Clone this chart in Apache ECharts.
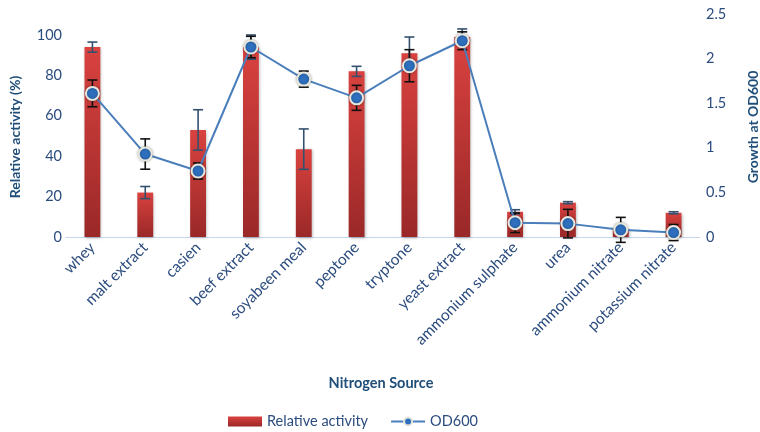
<!DOCTYPE html>
<html>
<head>
<meta charset="utf-8">
<script src="https://cdn.jsdelivr.net/npm/echarts@6/dist/echarts.min.js"></script>
<style>
  html, body { margin: 0; padding: 0; background: #ffffff; }
  #chart { width: 760px; height: 432px; }
</style>
</head>
<body>
<div id="chart"></div>
<script>
// Nitrogen sources tested
const categories = ['whey', 'malt extract', 'casien', 'beef extract', 'soyabeen meal', 'peptone',
  'tryptone', 'yeast extract', 'ammonium sulphate', 'urea', 'ammonium nitrate', 'potassium nitrate'];

// Relative activity (%) and its standard deviation
const activity    = [94, 22, 53, 94, 43.5, 82, 91, 99, 12.5, 17, 4, 12];
const activityErr = [2.5, 3, 10, 6, 10, 2.5, 8, 4, 1, 0.5, 0.5, 0.5];

// Growth at OD600 and its standard deviation
const od600    = [1.61, 0.93, 0.74, 2.13, 1.77, 1.56, 1.92, 2.20, 0.16, 0.15, 0.08, 0.05];
const od600Err = [0.15, 0.17, 0.09, 0.12, 0.09, 0.14, 0.18, 0.10, 0.11, 0.16, 0.14, 0.09];

// Axis tick settings
const leftTicks  = { min: 0, interval: 20, shownMax: 100 };
const rightTicks = { min: 0, max: 2.5, interval: 0.5 };

const FONT = 'Lato, "Open Sans", sans-serif';
const LABEL_COLOR = '#2b4c7e';
const TITLE_COLOR = '#1f4e79';

const chart = echarts.init(document.getElementById('chart'), null, { renderer: 'canvas' });

// Grid spans 14..237 px vertically; left axis 100 sits at y=35, so its max extends past 100
const gridTop = 14, gridBottomY = 237, leftTopY = 35;
const leftMax = leftTicks.shownMax * (gridBottomY - gridTop) / (gridBottomY - leftTopY);

function errorBars(values, errs) {
  return values.map((v, i) => [i, v - errs[i], v + errs[i]]);
}

function makeErrorRenderer(color, capHalf) {
  return function (params, api) {
    const x = api.value(0);
    const lo = api.coord([x, api.value(1)]);
    const hi = api.coord([x, api.value(2)]);
    const style = { stroke: color, lineWidth: 1.6 };
    return {
      type: 'group',
      children: [
        { type: 'line', shape: { x1: hi[0], y1: hi[1], x2: lo[0], y2: lo[1] }, style },
        { type: 'line', shape: { x1: hi[0] - capHalf, y1: hi[1], x2: hi[0] + capHalf, y2: hi[1] }, style },
        { type: 'line', shape: { x1: lo[0] - capHalf, y1: lo[1], x2: lo[0] + capHalf, y2: lo[1] }, style }
      ]
    };
  };
}

const barGradient = new echarts.graphic.LinearGradient(0, 0, 0, 1, [
  { offset: 0, color: '#d9423f' },
  { offset: 1, color: '#9a2828' }
]);

const option = {
  backgroundColor: '#ffffff',
  animation: false,
  textStyle: { fontFamily: FONT },
  grid: { left: 66, right: 60, top: gridTop, bottom: 432 - gridBottomY, containLabel: false },
  legend: {
    left: 223,
    top: 409,
    itemGap: 22,
    itemWidth: 34,
    itemHeight: 10,
    textStyle: { fontFamily: FONT, fontSize: 14.5, color: LABEL_COLOR },
    data: [
      { name: 'Relative activity', icon: 'rect' },
      { name: 'OD600' }
    ]
  },
  xAxis: {
    type: 'category',
    data: categories,
    axisLine: { lineStyle: { color: '#c6d6ec', width: 1 } },
    axisTick: { show: false },
    axisLabel: {
      rotate: 45,
      interval: 0,
      margin: 8,
      fontFamily: FONT,
      fontSize: 15.5,
      color: LABEL_COLOR
    }
  },
  yAxis: [
    {
      type: 'value',
      min: leftTicks.min,
      max: leftMax,
      interval: leftTicks.interval,
      splitLine: { show: false },
      axisLine: { show: false },
      axisTick: { show: false },
      axisLabel: {
        margin: 4,
        fontFamily: FONT,
        fontSize: 14.5,
        color: LABEL_COLOR,
        formatter: v => (v % leftTicks.interval === 0 && v <= leftTicks.shownMax) ? String(v) : ''
      }
    },
    {
      type: 'value',
      min: rightTicks.min,
      max: rightTicks.max,
      interval: rightTicks.interval,
      splitLine: { show: false },
      axisLine: { show: false },
      axisTick: { show: false },
      axisLabel: {
        margin: 6,
        fontFamily: FONT,
        fontSize: 14.5,
        color: LABEL_COLOR
      }
    }
  ],
  graphic: [
    {
      type: 'text', x: 15, y: 137, rotation: Math.PI / 2,
      style: { text: 'Relative activity (%)', fontFamily: FONT, fontSize: 14, fontWeight: 'bold',
        fill: TITLE_COLOR, align: 'center', verticalAlign: 'middle' }
    },
    {
      type: 'text', x: 753, y: 127, rotation: Math.PI / 2,
      style: { text: 'Growth at OD600', fontFamily: FONT, fontSize: 14, fontWeight: 'bold',
        fill: TITLE_COLOR, align: 'center', verticalAlign: 'middle' }
    },
    {
      type: 'text', x: 381, y: 383,
      style: { text: 'Nitrogen Source', fontFamily: FONT, fontSize: 14.5, fontWeight: 'bold',
        fill: TITLE_COLOR, align: 'center', verticalAlign: 'middle' }
    }
  ],
  series: [
    {
      name: 'Relative activity',
      type: 'bar',
      yAxisIndex: 0,
      data: activity,
      barWidth: '30%',
      z: 2,
      itemStyle: {
        color: barGradient,
        shadowColor: 'rgba(0,0,0,0.3)',
        shadowBlur: 3,
        shadowOffsetX: 1,
        shadowOffsetY: 1
      }
    },
    {
      name: 'activity error',
      type: 'custom',
      yAxisIndex: 0,
      data: errorBars(activity, activityErr),
      encode: { x: 0, y: [1, 2] },
      renderItem: makeErrorRenderer('#34506f', 5),
      z: 3,
      silent: true
    },
    {
      name: 'OD600 error',
      type: 'custom',
      yAxisIndex: 1,
      data: errorBars(od600, od600Err),
      encode: { x: 0, y: [1, 2] },
      renderItem: makeErrorRenderer('#111111', 5),
      z: 4,
      silent: true
    },
    {
      name: 'OD600',
      type: 'line',
      yAxisIndex: 1,
      data: od600,
      z: 5,
      symbol: 'circle',
      symbolSize: 13,
      lineStyle: { color: '#4a7ebb', width: 2 },
      itemStyle: {
        color: '#2e6fbe',
        borderColor: '#e6e6dc',
        borderWidth: 2,
        shadowColor: 'rgba(0,0,0,0.3)',
        shadowBlur: 3
      }
    }
  ]
};

chart.setOption(option);
</script>
</body>
</html>
